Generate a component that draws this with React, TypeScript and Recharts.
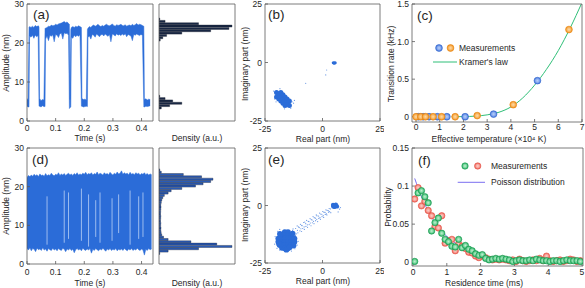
import React from 'react';
import {
  ComposedChart,
  BarChart,
  ScatterChart,
  Area,
  Bar,
  Line,
  Scatter,
  ErrorBar,
  XAxis,
  YAxis,
} from 'recharts';

const FONT = '"Liberation Sans", Arial, Helvetica, sans-serif';
const INK = '#262626';
const AXIS_GREY = '#5c5c5c';
const TRACE_BLUE = '#2b6cd8';

// (a) two-state trace: [time (s), lower edge, upper edge] of the noisy band (nm)
const traceA: [number, number, number][] = [
  [0, 3.8, 5.8], [0.004, 3.6, 5.4], [0.007, 3.6, 24.0], [0.009, 21.8, 24.2], [0.014, 21.5, 24.0],
  [0.019, 22.0, 24.3], [0.024, 21.2, 24.0], [0.029, 22.0, 24.5], [0.034, 21.6, 24.2], [0.039, 21.9, 24.4],
  [0.042, 3.8, 24.2], [0.044, 3.8, 5.8], [0.049, 3.6, 5.2], [0.054, 3.9, 5.5], [0.059, 3.7, 5.4],
  [0.063, 3.7, 23.8], [0.065, 21.0, 23.8], [0.07, 21.8, 24.0], [0.075, 20.6, 24.3], [0.08, 22.0, 24.2],
  [0.085, 21.7, 24.6], [0.09, 22.1, 24.4], [0.095, 20.3, 24.5], [0.1, 22.2, 24.8], [0.105, 22.0, 24.6],
  [0.11, 21.4, 24.9], [0.115, 22.4, 25.0], [0.12, 22.5, 25.1], [0.125, 21.0, 25.3], [0.13, 22.6, 25.5],
  [0.135, 22.4, 25.2], [0.14, 22.5, 25.4], [0.145, 22.0, 25.0], [0.148, 3.2, 24.8], [0.15, 3.4, 5.5],
  [0.153, 3.6, 23.5], [0.155, 21.5, 24.0], [0.16, 21.2, 24.2], [0.165, 22.0, 24.0], [0.17, 21.6, 24.3],
  [0.175, 22.0, 24.1], [0.18, 21.7, 24.4], [0.185, 22.1, 24.2], [0.19, 3.8, 24.0], [0.192, 3.8, 5.8],
  [0.197, 3.6, 5.5], [0.202, 3.7, 5.6], [0.207, 3.8, 5.4], [0.211, 3.7, 23.5], [0.213, 21.5, 23.8],
  [0.218, 21.8, 24.2], [0.223, 21.0, 24.0], [0.228, 22.2, 24.4], [0.233, 22.0, 24.6], [0.238, 21.5, 24.3],
  [0.243, 22.3, 24.5], [0.248, 22.0, 24.8], [0.253, 21.6, 24.4], [0.258, 22.1, 24.2], [0.263, 22.2, 24.5],
  [0.268, 21.8, 24.3], [0.273, 22.3, 24.6], [0.278, 22.0, 24.8], [0.283, 21.7, 24.5], [0.288, 22.2, 24.4],
  [0.293, 20.3, 24.6], [0.298, 22.3, 24.9], [0.303, 22.1, 24.5], [0.308, 21.8, 24.3], [0.313, 22.4, 24.7],
  [0.318, 22.0, 24.5], [0.323, 22.2, 24.6], [0.328, 21.9, 24.8], [0.333, 22.3, 24.5], [0.338, 22.0, 24.4],
  [0.343, 22.4, 24.7], [0.348, 21.6, 24.3], [0.353, 22.2, 24.5], [0.358, 22.0, 24.6], [0.363, 21.8, 24.4],
  [0.368, 20.6, 24.8], [0.373, 22.2, 24.5], [0.378, 22.0, 24.7], [0.383, 22.3, 25.0], [0.388, 22.1, 24.6],
  [0.393, 21.9, 24.8], [0.398, 22.2, 24.7], [0.403, 22.0, 24.5], [0.408, 3.6, 24.3], [0.41, 3.6, 5.5],
  [0.415, 3.8, 5.7], [0.42, 3.7, 5.4], [0.425, 3.8, 5.6], [0.43, 3.9, 5.5],
];

// (d) fast switching trace, same layout
const traceD: [number, number, number][] = [
  [0, 4.0, 22.4], [0.005, 3.6, 22.9], [0.01, 4.2, 22.6], [0.015, 3.4, 23.0], [0.02, 4.0, 22.7],
  [0.025, 3.8, 23.2], [0.03, 3.2, 22.8], [0.035, 4.1, 23.1], [0.04, 3.7, 22.6], [0.045, 3.9, 23.3],
  [0.05, 3.5, 22.9], [0.055, 4.2, 23.0], [0.06, 3.6, 22.7], [0.065, 3.9, 23.4], [0.07, 3.3, 22.8],
  [0.075, 4.0, 23.1], [0.08, 3.7, 22.9], [0.085, 3.5, 23.5], [0.09, 4.1, 23.0], [0.095, 3.6, 22.8],
  [0.1, 3.9, 23.2], [0.105, 3.4, 23.0], [0.11, 4.0, 23.6], [0.115, 3.7, 22.9], [0.12, 3.5, 23.3],
  [0.125, 4.1, 23.0], [0.13, 3.8, 23.4], [0.135, 3.2, 22.9], [0.14, 3.9, 23.2], [0.145, 3.6, 23.5],
  [0.15, 4.0, 23.0], [0.155, 3.5, 23.3], [0.16, 3.8, 22.9], [0.165, 2.9, 23.4], [0.17, 3.7, 23.1],
  [0.175, 4.0, 23.6], [0.18, 3.6, 23.0], [0.185, 3.9, 23.3], [0.19, 3.4, 23.1], [0.195, 4.1, 23.5],
  [0.2, 3.7, 23.2], [0.205, 3.5, 23.7], [0.21, 3.9, 23.1], [0.215, 3.6, 23.4], [0.22, 4.0, 23.2],
  [0.225, 2.8, 23.6], [0.23, 3.8, 23.0], [0.235, 3.5, 23.4], [0.24, 4.0, 23.2], [0.245, 3.7, 23.8],
  [0.25, 3.4, 23.1], [0.255, 3.9, 23.5], [0.26, 3.6, 23.3], [0.265, 4.1, 23.0], [0.27, 3.7, 23.6],
  [0.275, 3.3, 23.2], [0.28, 3.9, 23.4], [0.285, 3.6, 23.1], [0.29, 4.0, 23.7], [0.295, 3.5, 23.3],
  [0.3, 3.8, 23.0], [0.305, 3.6, 23.5], [0.31, 4.0, 23.2], [0.315, 3.4, 23.8], [0.32, 3.8, 23.3],
  [0.325, 3.6, 23.5], [0.33, 3.9, 24.1], [0.335, 3.5, 23.2], [0.34, 4.0, 23.6], [0.345, 3.7, 23.3],
  [0.35, 3.4, 23.5], [0.355, 3.9, 23.1], [0.36, 3.6, 23.7], [0.365, 4.0, 23.2], [0.37, 3.5, 23.4],
  [0.375, 3.8, 23.1], [0.38, 3.6, 23.6], [0.385, 4.1, 23.3], [0.39, 3.7, 23.5], [0.395, 3.5, 23.0],
  [0.4, 3.9, 23.4], [0.405, 3.6, 23.2], [0.41, 2.3, 23.6], [0.415, 3.8, 23.1], [0.42, 3.5, 23.4],
  [0.425, 4.0, 23.0], [0.43, 3.7, 23.3], [0.435, 3.9, 23.1],
];
// pale streaks inside the (d) band where the trace lingers: [time, from, to]
const streaksD: [number, number, number][] = [
  [0.07, 5.0, 17.5], [0.13, 5.5, 19.0], [0.145, 6.5, 18.5], [0.19, 6.0, 19.5], [0.215, 4.5, 18.0],
  [0.24, 7.0, 16.5], [0.255, 5.5, 18.5], [0.297, 6.0, 17.0], [0.32, 8.0, 18.0], [0.36, 5.0, 19.0],
  [0.39, 6.5, 17.5], [0.405, 7.0, 18.5],
];

// amplitude histograms, 0.6 nm bins from 0 nm upward (density, a.u.)
const histA = [
  0, 0, 0, 0, 0, 0.15, 0.7, 1.5, 0.9, 0.4,
  0.05, 0, 0, 0, 0, 0, 0, 0, 0, 0,
  0, 0, 0, 0, 0, 0, 0, 0, 0, 0,
  0, 0, 0, 0, 0.08, 0.25, 0.5, 1.5, 3.4, 4.6,
  4.8, 2.6, 0.4, 0.05, 0, 0, 0, 0, 0, 0,
];
const histD = [
  0, 0, 0, 0, 0.05, 0.6, 2.6, 4.8, 3.8, 2.1,
  0.6, 0.3, 0.18, 0.14, 0.12, 0.13, 0.11, 0.12, 0.1, 0.11,
  0.12, 0.1, 0.11, 0.12, 0.13, 0.12, 0.15, 0.18, 0.25, 0.35,
  0.6, 0.8, 1.5, 2.4, 2.9, 3.4, 3.55, 2.8, 1.6, 0.15,
  0.05, 0, 0, 0, 0, 0, 0, 0, 0, 0,
];

// (b) complex plane: [real, imaginary] (nm)
const coreB: [number, number][] = [
  [-20.0, -12.8], [-19.0, -13.8], [-18.1, -14.7], [-17.2, -15.6], [-16.3, -16.5], [-15.4, -17.4], [-14.4, -18.4],
  [-18.1, -12.8], [-17.2, -13.8], [-16.3, -14.7], [-15.4, -15.6], [-14.4, -16.5],
  [-20.0, -14.7], [-19.0, -15.6], [-18.1, -16.5], [-17.2, -17.4], [-16.3, -18.4],
  [-18.6, -13.3], [-17.6, -14.2], [-16.7, -15.1], [-15.8, -16.0], [-14.9, -16.9],
  [-19.5, -14.2], [-18.6, -15.1], [-17.6, -16.0], [-16.7, -16.9], [-15.8, -17.9],
];
const sparseB: [number, number][] = [
  [-21.3, -12.2], [-20.8, -15.6], [-13.2, -16.8], [-12.6, -17.4], [-13.8, -19.6], [-18.5, -11.2],
  [-12.2, -16.2], [-7.3, -8.9], [1.4, -5.3], [1.8, -3.2], [-20.2, -16.8], [-16.5, -19.8],
];
const blobB: [number, number][] = [[4.7, -0.1], [5.5, -0.1], [5.1, -0.3]];

// (e) complex plane for the fast switching case
const coreE: [number, number][] = [
  [-16.4, -11.6], [-15.0, -11.6],
  [-17.8, -13.0], [-16.4, -13.0], [-15.0, -13.0], [-13.6, -13.0],
  [-19.2, -14.4], [-17.8, -14.4], [-16.4, -14.4], [-15.0, -14.4], [-13.6, -14.4], [-12.2, -14.4],
  [-19.2, -15.8], [-17.8, -15.8], [-16.4, -15.8], [-15.0, -15.8], [-13.6, -15.8], [-12.2, -15.8],
  [-18.6, -17.2], [-17.8, -17.2], [-16.4, -17.2], [-15.0, -17.2], [-13.6, -17.2],
  [-17.6, -18.4], [-16.4, -18.6], [-15.0, -18.6],
  [-18.5, -12.4], [-13.0, -12.2], [-12.6, -17.4], [-18.9, -16.6], [-15.7, -19.2], [-14.3, -18.2],
];
const sparseE: [number, number][] = [
  [-20.6, -13.5], [-20.8, -16.8], [-19.8, -18.6], [-18.6, -19.4], [-13.5, -19.8], [-12.0, -18.8],
  [-11.0, -17.2], [-10.6, -15.6], [-19.5, -11.2], [-18.6, -10.4], [-13.0, -10.8], [-12.4, -12.4],
  [-11.8, -13.0], [-12.8, -10.2],
  [-11.4, -12.3], [-11.7, -10.0], [-11.0, -8.9], [-10.9, -10.8], [-10.4, -9.3], [-10.7, -11.9],
  [-9.8, -11.0], [-10.1, -9.6], [-9.6, -8.2], [-9.4, -10.1], [-9.0, -8.6], [-9.1, -11.3],
  [-8.6, -10.0], [-8.9, -8.8], [-8.2, -7.4], [-8.0, -9.3], [-7.7, -7.2], [-7.9, -10.4],
  [-7.2, -9.1], [-7.3, -7.9], [-6.9, -6.5], [-6.6, -8.4], [-6.2, -6.9], [-6.5, -9.5],
  [-5.8, -8.3], [-5.9, -7.0], [-5.4, -5.7], [-5.3, -7.6], [-4.9, -6.1], [-5.0, -8.8],
  [-4.4, -7.5], [-4.5, -6.3], [-4.1, -4.8], [-3.9, -6.9], [-3.6, -5.3], [-3.7, -7.9],
  [-3.0, -6.6], [-3.1, -5.5], [-2.7, -4.1], [-2.5, -6.0], [-2.4, -4.5], [-2.1, -7.0],
  [-1.6, -5.6], [-1.7, -4.6], [-1.3, -3.3], [-1.1, -5.3], [-0.8, -3.7], [-0.9, -6.0],
  [-0.2, -4.8], [-0.3, -3.8], [0.1, -2.6], [0.3, -4.4], [0.6, -2.9], [0.5, -5.2],
  [1.2, -3.9], [1.1, -3.0], [1.5, -1.9], [1.7, -3.6], [2.0, -2.1], [1.9, -4.1],
  [2.6, -2.9], [2.5, -2.2], [2.9, -1.3], [3.1, -2.7], [3.4, -1.5], [3.6, -3.1],
  [7.4, -1.6], [6.8, -2.8], [7.8, -0.9],
];
const blobE: [number, number][] = [[4.6, 0.2], [5.8, 0.3], [6.3, -0.4], [5.2, -0.6], [4.7, -0.4]];

// (c) transition rate (kHz) vs effective temperature (x10^4 K)
const tempBlue = [0.1, 0.3, 0.55, 0.9, 1.3, 2.07, 3.27, 5.12];
const rateBlue = [0, 0, 0, 0, 0, 0, 0.035, 0.48];
const tempOrange = [0, 0.2, 0.4, 0.72, 1.08, 1.65, 2.58, 4.1, 6.45];
const rateOrange = [0, 0, 0, 0, 0, 0, 0.015, 0.16, 1.16];
const kramerTemp = [1.5, 2, 2.5, 3, 3.5, 4, 4.5, 5, 5.5, 6, 6.5, 7];
const kramerRate = [0, 0.002, 0.008, 0.025, 0.06, 0.13, 0.25, 0.42, 0.63, 0.88, 1.18, 1.52];

// (f) residence time histogram (ms) and Poisson fit
const resTime = [
  0.05, 0.15, 0.25, 0.35, 0.45, 0.55, 0.65, 0.75, 0.85, 0.95,
  1.05, 1.15, 1.25, 1.35, 1.45, 1.55, 1.65, 1.75, 1.85, 1.95,
  2.05, 2.15, 2.25, 2.35, 2.45, 2.55, 2.65, 2.75, 2.85, 2.95,
  3.05, 3.15, 3.25, 3.35, 3.45, 3.55, 3.65, 3.75, 3.85, 3.95,
  4.05, 4.15, 4.25, 4.35, 4.45, 4.55, 4.65, 4.75, 4.85, 4.95,
];
const probGreen = [
  0.001, 0.091, 0.094, 0.086, 0.078, 0.041, 0.052, 0.058, 0.038, 0.03,
  0.027, 0.021, 0.02, 0.03, 0.019, 0.022, 0.017, 0.015, 0.011, 0.009,
  0.01, 0.005, 0.003, 0.004, 0.005, 0.004, 0.005, 0.004, 0.003, 0.001,
  0.002, 0.003, 0.002, 0.002, 0.003, 0.002, 0.004, 0.003, 0.002, 0.002,
  0.001, 0.002, 0.002, 0.001, 0.002, 0.003, 0.002, 0.002, 0.002, 0.001,
];
const probRed = [
  0.083, 0.098, 0.074, 0.08, 0.068, 0.061, 0.047, 0.045, 0.061, 0.025,
  0.028, 0.03, 0.015, 0.024, 0.021, 0.018, 0.013, 0.012, 0.008, 0.006,
  0.009, 0.006, 0.004, 0.003, 0.004, 0.003, 0.004, 0.003, 0.002, 0.003,
  0.001, 0.004, 0.002, 0.001, 0.002, 0.003, 0.002, 0.005, 0.002, 0.008,
  0.002, 0.001, 0.002, 0.003, 0.001, 0.002, 0.004, 0.003, 0.001, 0.002,
];
const poissonTime = [0.05, 0.25, 0.5, 0.75, 1, 1.25, 1.5, 1.75, 2, 2.5, 3, 3.5, 4, 4.5, 5];
const poissonProb = [0.11, 0.086, 0.063, 0.046, 0.034, 0.025, 0.018, 0.013, 0.0098, 0.0053, 0.0028, 0.0015, 0.0008, 0.0004, 0.0002];

// ---------- layout helpers ----------
type Box = { x0: number; y0: number; x1: number; y1: number };
const PAD = { l: 30, t: 4, r: 4, b: 22 };
const zero = { top: 0, right: 0, bottom: 0, left: 0 };
const axisLine = { stroke: AXIS_GREY, strokeWidth: 0.8 };
const tickText = { fontSize: 8.5, fill: INK };

const boxA: Box = { x0: 27, y0: 4, x1: 153, y1: 121 };
const boxHA: Box = { x0: 159, y0: 4, x1: 235, y1: 121 };
const boxB: Box = { x0: 265, y0: 4, x1: 380, y1: 121 };
const boxC: Box = { x0: 412, y0: 4, x1: 582, y1: 122 };
const boxD: Box = { x0: 27, y0: 148, x1: 153, y1: 264 };
const boxHD: Box = { x0: 159, y0: 148, x1: 235, y1: 264 };
const boxE: Box = { x0: 265, y0: 148, x1: 380, y1: 263 };
const boxF: Box = { x0: 412, y0: 148, x1: 583, y1: 266 };

const size = (b: Box) => ({
  width: b.x1 - b.x0 + PAD.l + PAD.r,
  height: b.y1 - b.y0 + PAD.t + PAD.b,
});

const Place = ({ box, children }: { box: Box; children: React.ReactNode }) => (
  <div style={{ position: 'absolute', left: box.x0 - PAD.l, top: box.y0 - PAD.t }}>{children}</div>
);

type FrameOpts = {
  xDomain: [number, number];
  xTicks: number[];
  yDomain: [number, number];
  yTicks: number[];
  xKey?: string;
  yKey?: string;
  xMargin?: number;
  yFmt?: (v: number) => string;
};

// box-style axes with inward ticks on all four sides
function frame(o: FrameOpts) {
  return [
    <XAxis key="xb" type="number" dataKey={o.xKey} domain={o.xDomain} ticks={o.xTicks} allowDataOverflow
      height={PAD.b} tickSize={-3} tickMargin={o.xMargin ?? 6.5} tick={tickText} interval={0}
      axisLine={axisLine} tickLine={axisLine} />,
    <XAxis key="xt" xAxisId="top" orientation="top" type="number" domain={o.xDomain} ticks={o.xTicks}
      allowDataOverflow height={PAD.t} tickSize={-3} tick={false} interval={0}
      axisLine={axisLine} tickLine={axisLine} />,
    <YAxis key="yl" type="number" dataKey={o.yKey} domain={o.yDomain} ticks={o.yTicks} allowDataOverflow
      width={PAD.l} tickSize={-3} tickMargin={6} tick={tickText} interval={0} tickFormatter={o.yFmt}
      axisLine={axisLine} tickLine={axisLine} />,
    <YAxis key="yr" yAxisId="right" orientation="right" type="number" domain={o.yDomain} ticks={o.yTicks}
      allowDataOverflow width={PAD.r} tickSize={-3} tick={false} interval={0}
      axisLine={axisLine} tickLine={axisLine} />,
  ];
}

const dot = (r: number, fill: string, stroke = 'none', opacity = 1) => (p: any) =>
  <circle cx={p.cx} cy={p.cy} r={r} fill={fill} fillOpacity={opacity} stroke={stroke} strokeWidth={0.6} />;

const pairs = (pts: [number, number][]) => pts.map(([x, y]) => ({ x, y }));
const zipXY = (xs: number[], ys: number[]) => xs.map((x, i) => ({ x, y: ys[i] }));

function Trace({ box, rows, streaks, xMargin }: {
  box: Box; rows: [number, number, number][]; streaks?: [number, number, number][]; xMargin: number;
}) {
  const data = rows.map(([t, lo, hi]) => ({ t, band: [lo, hi] }));
  return (
    <Place box={box}>
      <ComposedChart {...size(box)} data={data} margin={zero}>
        {frame({ xDomain: [0, 0.44], xTicks: [0, 0.1, 0.2, 0.3, 0.4], yDomain: [0, 30], yTicks: [0, 10, 20, 30], xKey: 't', xMargin })}
        <Area type="linear" dataKey="band" stroke={TRACE_BLUE} strokeWidth={0.5} fill={TRACE_BLUE} fillOpacity={1} isAnimationActive={false} />
        {streaks && (
          <Scatter data={streaks.map(([t, lo, hi]) => ({ t, y: lo, span: [0, hi - lo] }))} dataKey="y"
            shape={() => <g />} isAnimationActive={false}>
            <ErrorBar dataKey="span" direction="y" width={0} stroke="#a9c5f2" strokeWidth={0.9} />
          </Scatter>
        )}
      </ComposedChart>
    </Place>
  );
}

function Histogram({ box, values, fill }: { box: Box; values: number[]; fill: string }) {
  const rows = values.map((v, i) => ({ bin: i, v })).reverse();
  return (
    <Place box={box}>
      <BarChart {...size(box)} data={rows} layout="vertical" margin={zero} barCategoryGap={0} barGap={0}>
        <XAxis type="number" domain={[0, 5]} ticks={[0, 1, 2, 3, 4, 5]} allowDataOverflow height={PAD.b}
          tickSize={-3} tick={false} interval={0} axisLine={axisLine} tickLine={axisLine} />
        <XAxis xAxisId="top" orientation="top" type="number" domain={[0, 5]} ticks={[0, 1, 2, 3, 4, 5]}
          allowDataOverflow height={PAD.t} tickSize={-3} tick={false} interval={0} axisLine={axisLine} tickLine={axisLine} />
        <YAxis type="category" dataKey="bin" hide width={0} />
        <YAxis yAxisId="amp" type="number" domain={[0, 30]} ticks={[0, 10, 20, 30]} allowDataOverflow width={PAD.l}
          tickSize={-3} tick={false} interval={0} axisLine={axisLine} tickLine={axisLine} />
        <YAxis yAxisId="ampR" orientation="right" type="number" domain={[0, 30]} ticks={[0, 10, 20, 30]} allowDataOverflow
          width={PAD.r} tickSize={-3} tick={false} interval={0} axisLine={axisLine} tickLine={axisLine} />
        <Bar dataKey="v" fill={fill} stroke="#0b1220" strokeWidth={0.35} isAnimationActive={false} />
      </BarChart>
    </Place>
  );
}

function Plane({ box, core, sparse, blob, coreR, blobR, xMargin }: {
  box: Box; core: [number, number][]; sparse: [number, number][]; blob: [number, number][];
  coreR: number; blobR: number; xMargin: number;
}) {
  return (
    <Place box={box}>
      <ScatterChart {...size(box)} margin={zero}>
        {frame({ xDomain: [-25, 25], xTicks: [-25, 0, 25], yDomain: [-25, 25], yTicks: [-25, 0, 25], xKey: 'x', yKey: 'y', xMargin })}
        <Scatter data={pairs(sparse)} shape={dot(0.6, TRACE_BLUE, 'none', 0.7)} isAnimationActive={false} />
        <Scatter data={pairs(core)} shape={dot(coreR, TRACE_BLUE)} isAnimationActive={false} />
        <Scatter data={pairs(blob)} shape={dot(blobR, TRACE_BLUE)} isAnimationActive={false} />
      </ScatterChart>
    </Place>
  );
}

function RatePanel() {
  const box = boxC;
  return (
    <Place box={box}>
      <ComposedChart {...size(box)} data={zipXY(kramerTemp, kramerRate)} margin={zero}>
        {frame({
          xDomain: [-0.17, 7], xTicks: [0, 1, 2, 3, 4, 5, 6, 7], yDomain: [-0.07, 1.5], yTicks: [0, 0.5, 1, 1.5],
          xKey: 'x', yKey: 'y', xMargin: 5, yFmt: (v) => (v === 0 ? '0' : v.toFixed(1)),
        })}
        <Scatter data={zipXY(tempBlue, rateBlue)} dataKey="y" shape={dot(3.4, 'url(#gBlue)', '#3568cc')} isAnimationActive={false} />
        <Scatter data={zipXY(tempOrange, rateOrange)} dataKey="y" shape={dot(3.4, 'url(#gOrange)', '#e8870f')} isAnimationActive={false} />
        <Line type="monotone" dataKey="y" stroke="#2fbf78" strokeWidth={1} dot={false} isAnimationActive={false} />
      </ComposedChart>
    </Place>
  );
}

function ResidencePanel() {
  const box = boxF;
  return (
    <Place box={box}>
      <ComposedChart {...size(box)} data={zipXY(poissonTime, poissonProb)} margin={zero}>
        {frame({
          xDomain: [-0.03, 5.03], xTicks: [0, 1, 2, 3, 4, 5], yDomain: [-0.005, 0.15], yTicks: [0, 0.05, 0.1, 0.15],
          xKey: 'x', yKey: 'y', xMargin: 6,
        })}
        <Scatter data={zipXY(resTime, probRed)} dataKey="y" shape={dot(3.2, 'url(#gRed)', '#e4574c')} isAnimationActive={false} />
        <Scatter data={zipXY(resTime, probGreen)} dataKey="y" shape={dot(3.2, 'url(#gGreen)', '#1f9f55')} isAnimationActive={false} />
        <Line type="monotone" dataKey="y" stroke="#7b6ff0" strokeWidth={1} dot={false} isAnimationActive={false} />
      </ComposedChart>
    </Place>
  );
}

const Txt = ({ x, y, children, size = 8.5, anchor = 'middle', rotate = false }: {
  x: number; y: number; children: React.ReactNode; size?: number; anchor?: 'start' | 'middle' | 'end'; rotate?: boolean;
}) => (
  <text x={x} y={y} fontSize={size} fill={INK} textAnchor={anchor} dominantBaseline="central"
    transform={rotate ? `rotate(-90 ${x} ${y})` : undefined}>
    {children}
  </text>
);

function Overlay() {
  return (
    <svg width={585} height={288} style={{ position: 'absolute', left: 0, top: 0, pointerEvents: 'none', overflow: 'visible' }}>
      <defs>
        <radialGradient id="gBlue"><stop offset="0" stopColor="#b9d0f8" /><stop offset="0.55" stopColor="#86a9ef" /><stop offset="1" stopColor="#3d72da" /></radialGradient>
        <radialGradient id="gOrange"><stop offset="0" stopColor="#fddcab" /><stop offset="0.55" stopColor="#f8b966" /><stop offset="1" stopColor="#f08c1a" /></radialGradient>
        <radialGradient id="gGreen"><stop offset="0" stopColor="#c4f0d2" /><stop offset="0.55" stopColor="#78d79e" /><stop offset="1" stopColor="#22a75b" /></radialGradient>
        <radialGradient id="gRed"><stop offset="0" stopColor="#fcd2cc" /><stop offset="0.55" stopColor="#f7a199" /><stop offset="1" stopColor="#ec5a4e" /></radialGradient>
      </defs>
      <Txt x={33} y={14} size={13.5} anchor="start">(a)</Txt>
      <Txt x={268} y={14} size={13.5} anchor="start">(b)</Txt>
      <Txt x={417} y={15} size={13.5} anchor="start">(c)</Txt>
      <Txt x={32} y={159} size={13.5} anchor="start">(d)</Txt>
      <Txt x={268} y={159} size={13.5} anchor="start">(e)</Txt>
      <Txt x={418} y={160} size={13.5} anchor="start">(f)</Txt>

      <Txt x={6} y={63} rotate>Amplitude (nm)</Txt>
      <Txt x={90} y={137.5}>Time (s)</Txt>
      <Txt x={197} y={137.5}>Density (a.u.)</Txt>
      <Txt x={245} y={64} rotate>Imaginary part (nm)</Txt>
      <Txt x={323} y={138.5}>Real part (nm)</Txt>
      <Txt x={391} y={64} rotate>Transition rate (kHz)</Txt>
      <Txt x={489} y={138.5}>Effective temperature (×10⁴ K)</Txt>

      <Txt x={6} y={206} rotate>Amplitude (nm)</Txt>
      <Txt x={90} y={282.5}>Time (s)</Txt>
      <Txt x={197} y={282.5}>Density (a.u.)</Txt>
      <Txt x={245} y={205} rotate>Imaginary part (nm)</Txt>
      <Txt x={323} y={281}>Real part (nm)</Txt>
      <Txt x={388} y={207} rotate>Probability</Txt>
      <Txt x={484} y={283}>Residence time (ms)</Txt>

      <circle cx={439} cy={48} r={3.4} fill="url(#gBlue)" stroke="#3568cc" strokeWidth={0.6} />
      <circle cx={450.5} cy={48} r={3.4} fill="url(#gOrange)" stroke="#e8870f" strokeWidth={0.6} />
      <Txt x={459} y={48} anchor="start">Measurements</Txt>
      <line x1={433} x2={457} y1={62} y2={62} stroke="#2fbf78" strokeWidth={1} />
      <Txt x={459} y={62} anchor="start">Kramer's law</Txt>

      <circle cx={465} cy={166} r={3.2} fill="url(#gGreen)" stroke="#1f9f55" strokeWidth={0.6} />
      <circle cx={477.7} cy={166} r={3.2} fill="url(#gRed)" stroke="#e4574c" strokeWidth={0.6} />
      <Txt x={491} y={166} anchor="start">Measurements</Txt>
      <line x1={457.7} x2={485} y1={182.3} y2={182.3} stroke="#7b6ff0" strokeWidth={1} />
      <Txt x={491} y={182.3} anchor="start">Poisson distribution</Txt>
    </svg>
  );
}

export default function App() {
  return (
    <div style={{ position: 'relative', width: 585, height: 288, fontFamily: FONT, background: '#fff', overflow: 'hidden' }}>
      <style>{'body{margin:0}'}</style>
      <Trace box={boxA} rows={traceA} xMargin={6.5} />
      <Histogram box={boxHA} values={histA} fill="#1b2a47" />
      <Plane box={boxB} core={coreB} sparse={sparseB} blob={blobB} coreR={2.5} blobR={1.6} xMargin={7.5} />
      <RatePanel />
      <Trace box={boxD} rows={traceD} streaks={streaksD} xMargin={8} />
      <Histogram box={boxHD} values={histD} fill="#2b5cb8" />
      <Plane box={boxE} core={coreE} sparse={sparseE} blob={blobE} coreR={2.9} blobR={2.2} xMargin={8} />
      <ResidencePanel />
      <Overlay />
    </div>
  );
}
